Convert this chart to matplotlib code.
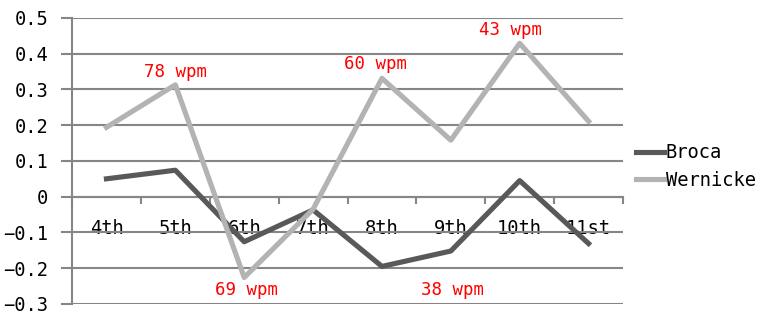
import matplotlib.pyplot as plt
import numpy as np

plt.rcParams['font.family'] = ['DejaVu Sans Mono', 'Noto Sans CJK JP']

grades = ["4th", "5th", "6th", "7th", "8th", "9th", "10th", "11st"]
broca = [0.050, 0.074, -0.126, -0.037, -0.195, -0.152, 0.045, -0.131]
wernicke = [0.194, 0.313, -0.226, -0.035, 0.331, 0.158, 0.429, 0.211]

# wpm notes: text, x (category index), y
notes = ["78 wpm", "69 wpm", "60 wpm", "43 wpm", "38 wpm"]
note_x = [1.0, 2.04, 3.9, 5.86, 5.03]
note_y = [0.349, -0.261, 0.372, 0.466, -0.261]

grid_c = "#868686"

fig = plt.figure(figsize=(7.59, 3.14), dpi=100)
ax = fig.add_axes([0.0949, 0.0320, 0.7259, 0.911])

x = np.arange(len(grades))
ax.plot(x, broca, color="#595959", lw=3.7, label="Broca", zorder=3)
ax.plot(x, wernicke, color="#b3b3b3", lw=3.7, label="Wernicke", zorder=3)

ax.set_xlim(-0.5, len(grades) - 0.5)
ax.set_ylim(-0.3, 0.5)
yt = np.round(np.arange(-0.3, 0.51, 0.1), 1)
ax.set_yticks(yt)
ax.set_yticklabels(["0" if v == 0 else f"{v:.1f}".replace("-", "−") for v in yt], fontsize=13.5)
ax.yaxis.grid(True, color=grid_c, lw=1.5)
ax.set_axisbelow(True)
ax.tick_params(axis='y', length=8, width=1.5, color=grid_c, pad=9)

# x axis crossing at zero
for s in ["top", "right"]:
    ax.spines[s].set_visible(False)
ax.spines["left"].set_color(grid_c)
ax.spines["left"].set_linewidth(1.5)
ax.spines["bottom"].set_position(("data", 0))
ax.spines["bottom"].set_color(grid_c)
ax.spines["bottom"].set_linewidth(1.5)
ax.set_xticks(x)
ax.set_xticklabels(grades, fontsize=13.5)
ax.set_xticks(np.arange(-0.5, len(grades), 1), minor=True)
ax.tick_params(axis='x', which='major', length=0, pad=16)
ax.tick_params(axis='x', which='minor', length=5, width=1.5, color=grid_c, direction='out')

for t, nx, ny in zip(notes, note_x, note_y):
    ax.text(nx, ny, t, color="red", fontsize=12.5, ha="center", va="center")

fig.legend(loc="center left", bbox_to_anchor=(0.828, 0.47), frameon=False,
           fontsize=13.5, handlelength=1.5, handletextpad=0.1, labelspacing=0.45,
           borderaxespad=0)

plt.savefig("out.png", dpi=100)
